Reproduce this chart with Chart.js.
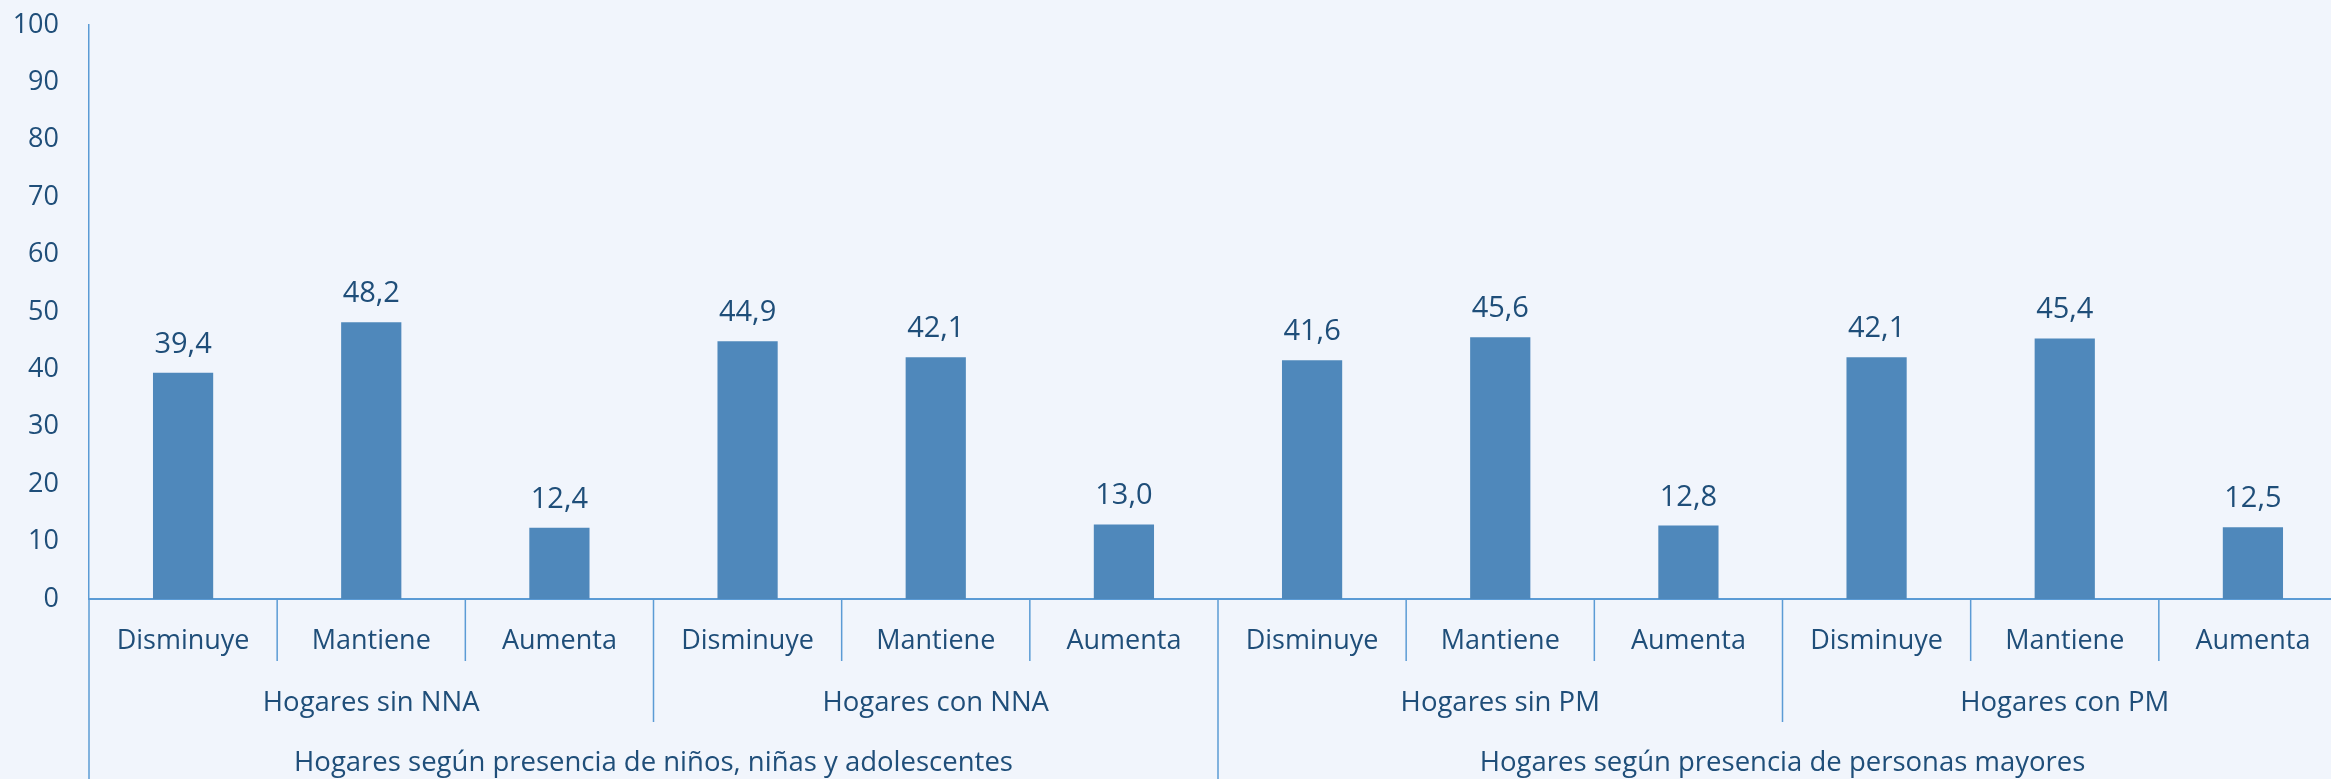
<!DOCTYPE html>
<html>
<head>
<meta charset="utf-8">
<script src="https://cdn.jsdelivr.net/npm/chart.js@4.4.1/dist/chart.umd.min.js"></script>
<style>
  html, body { margin: 0; padding: 0; overflow: hidden; background: #F1F5FC; }
  #wrap { width: 2350px; height: 779px; position: relative; }
</style>
</head>
<body>
<div id="wrap"><canvas id="mainChart"></canvas></div>
<script>
// categories (first level), groups (second level), top groups (third level)
const categories = ['Disminuye', 'Mantiene', 'Aumenta', 'Disminuye', 'Mantiene', 'Aumenta',
                    'Disminuye', 'Mantiene', 'Aumenta', 'Disminuye', 'Mantiene', 'Aumenta'];
const groups = ['Hogares sin NNA', 'Hogares con NNA', 'Hogares sin PM', 'Hogares con PM'];
const topGroups = ['Hogares según presencia de niños, niñas y adolescentes',
                   'Hogares según presencia de personas mayores'];
const values = [39.4, 48.2, 12.4, 44.9, 42.1, 13.0, 41.6, 45.6, 12.8, 42.1, 45.4, 12.5];
const yTicks = [0, 10, 20, 30, 40, 50, 60, 70, 80, 90, 100];

const TEXT = '#1F4E79';
const LINE = '#5B9BD5';
const FONT = "'Open Sans', sans-serif";

const fmt = v => v.toFixed(1).replace('.', ',');

// value labels over bars + hierarchical x axis
const decorations = {
    id: 'decorations',
    afterDatasetsDraw(chart) {
        const ctx = chart.ctx;
        const x = chart.scales.x;
        const area = chart.chartArea;
        const bars = chart.getDatasetMeta(0).data;

        ctx.save();
        ctx.fillStyle = TEXT;
        ctx.textAlign = 'center';

        // values
        ctx.font = `29px ${FONT}`;
        ctx.textBaseline = 'alphabetic';
        bars.forEach((bar, i) => {
            ctx.fillText(fmt(values[i]), bar.x, bar.y - 20);
        });

        const step = x.getPixelForValue(1) - x.getPixelForValue(0);
        const edge = i => x.getPixelForValue(0) - step / 2 + i * step;
        const base = area.bottom;

        // dividers
        ctx.strokeStyle = LINE;
        ctx.lineWidth = 1.5;
        for (let i = 0; i <= categories.length; i++) {
            let end = base + 62;
            if (i % 3 === 0) end = base + 123;
            if (i % 6 === 0) end = chart.height;
            ctx.beginPath();
            ctx.moveTo(edge(i), base);
            ctx.lineTo(edge(i), end);
            ctx.stroke();
        }

        ctx.textBaseline = 'middle';
        ctx.font = `27px ${FONT}`;
        categories.forEach((c, i) => {
            ctx.fillText(c, x.getPixelForValue(i), base + 42);
        });
        ctx.font = `27.5px ${FONT}`;
        groups.forEach((g, i) => {
            ctx.fillText(g, (edge(i * 3) + edge(i * 3 + 3)) / 2, base + 104);
        });
        topGroups.forEach((g, i) => {
            ctx.fillText(g, (edge(i * 6) + edge(i * 6 + 6)) / 2, base + 164);
        });
        ctx.restore();
    }
};

new Chart(document.getElementById('mainChart'), {
    type: 'bar',
    data: {
        labels: categories,
        datasets: [{
            data: values,
            backgroundColor: '#4F88BB',
            borderWidth: 0,
            categoryPercentage: 1,
            barPercentage: 0.32
        }]
    },
    options: {
        responsive: true,
        maintainAspectRatio: false,
        animation: false,
        layout: { padding: { top: 25, right: 3, left: 0, bottom: 0 } },
        plugins: {
            legend: { display: false },
            tooltip: { enabled: false }
        },
        scales: {
            x: {
                grid: { display: false },
                border: { color: LINE, width: 2 },
                ticks: { display: false },
                afterFit(scale) { scale.height = 180; }
            },
            y: {
                min: 0,
                max: 100,
                afterBuildTicks(scale) { scale.ticks = yTicks.map(v => ({ value: v })); },
                grid: { display: false },
                border: { color: LINE, width: 1.5 },
                ticks: {
                    color: TEXT,
                    font: { family: FONT, size: 27 },
                    padding: 22
                },
                afterFit(scale) {
                    scale.width = 89;
                    scale.paddingTop = 0;
                    scale.paddingBottom = 0;
                }
            }
        }
    },
    plugins: [decorations]
});
</script>
</body>
</html>
